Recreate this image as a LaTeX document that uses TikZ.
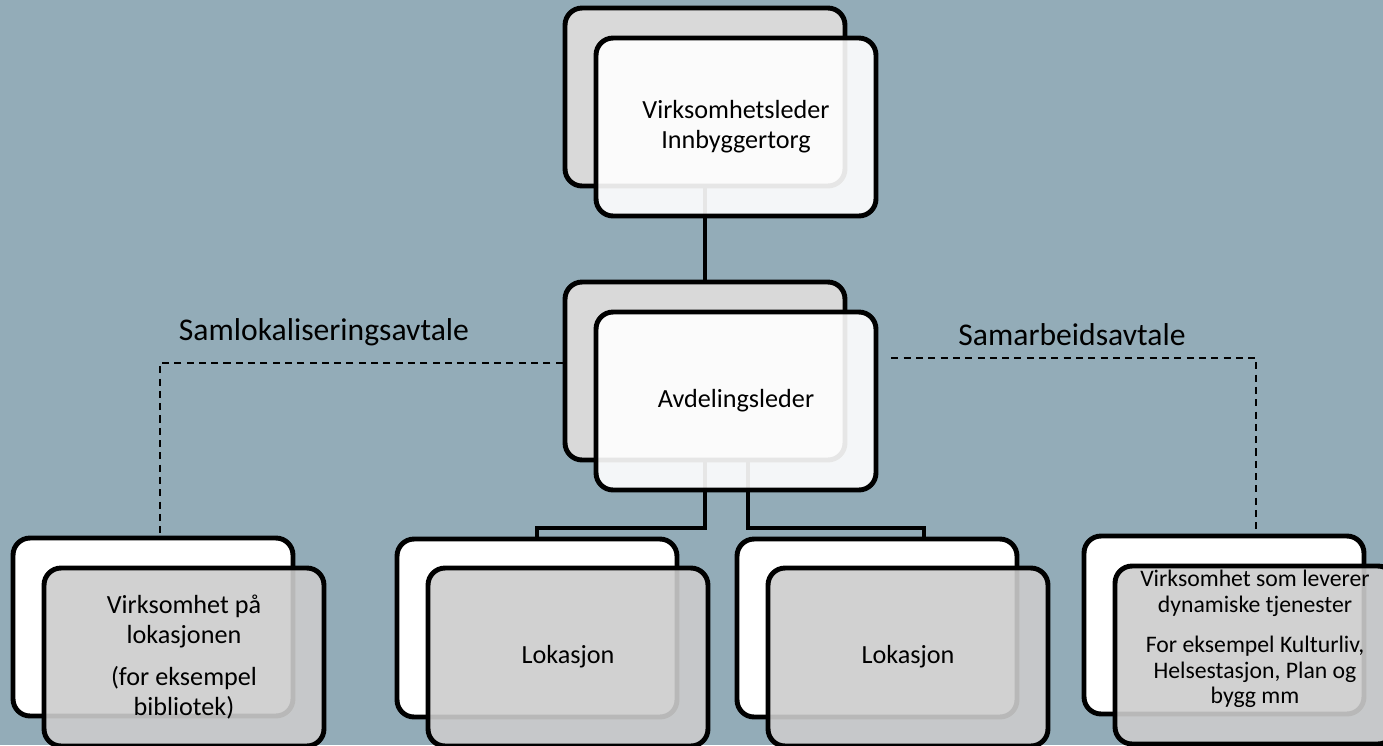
\documentclass[tikz,border=0pt]{standalone}
\usepackage{fontspec}
\setmainfont{Carlito}
\usepackage{xcolor}
\definecolor{slate}{RGB}{147,172,184}
\definecolor{paper}{RGB}{217,217,217}
\definecolor{ash}{RGB}{204,204,204}
\usetikzlibrary{positioning, calc}

\begin{document}
\begin{tikzpicture}[
    x=0.02cm, y=-0.02cm,
    font=\fontsize{14.9}{17}\selectfont,
    card/.style={draw=black, line width=2.8pt, rounded corners=0.34cm,
      minimum width=5.6cm, minimum height=3.56cm, inner sep=0pt, align=center},
    darkback/.style={card, fill=paper},
    lightback/.style={card, fill=white},
    lightfront/.style={card, fill=white, fill opacity=0.9, text opacity=1},
    darkfront/.style={card, fill=ash, fill opacity=0.9, text opacity=1},
    link/.style={line width=2.4pt},
    agreement/.style={line width=1.1pt, dash pattern=on 4pt off 3pt},
    tag/.style={font=\fontsize{18}{21}\selectfont}
  ]
  % Canvas (1383 x 745 px)
  \useasboundingbox (0,0) rectangle (1383,745);
  \clip (0,0) rectangle (1383,745);
  \fill[slate] (0,0) rectangle (1383,745);

  % Back cards
  \node[darkback] (topback) at (705,97) {};
  \node[darkback] (midback) at (705,371) {};
  \node[lightback] (leftback) at (153,627) {};
  \node[lightback] (lok1back) at (537,628) {};
  \node[lightback] (lok2back) at (877,628) {};
  \node[lightback] (rightback) at (1224,625) {};

  % Solid links
  \coordinate (bar) at (0,528);
  \coordinate (lok2drop) at (924,539);
  \draw[link] (topback.south) -- (midback.north);
  \draw[link] (midback.south) -- (midback.south |- bar) -| (lok1back.north);
  \draw[link] ($(midback.south)+(43,0)$) |- (lok2drop |- bar) -- (lok2drop);

  % Dashed agreements
  \coordinate (samlokdrop) at (160,363);
  \coordinate (samarbdrop) at (1256,358);
  \draw[agreement] (midback.west |- samlokdrop) -- (samlokdrop) -- (samlokdrop |- leftback.north);
  \node[tag] (samloktag) at (324,332) {Samlokaliseringsavtale};
  \node[tag] (samarbtag) at (1072,335) {Samarbeidsavtale};

  % Front cards
  \node[lightfront] (topfront) at ($(topback)+(31,30)$) {Virksomhetsleder\\Innbyggertorg};
  \node[lightfront] (midfront) at ($(midback)+(31,30)$) {Avdelingsleder};
  \draw[agreement] ($(midfront.east |- samarbdrop)+(13,0)$) -- (samarbdrop) -- (samarbdrop |- rightback.north);
  \node[darkfront] (leftfront) at ($(leftback)+(31,30)$)
    {Virksomhet på\\lokasjonen\\[7pt](for eksempel\\bibliotek)};
  \node[darkfront] (lok1front) at ($(lok1back)+(31,29)$) {Lokasjon};
  \node[darkfront] (lok2front) at ($(lok2back)+(31,29)$) {Lokasjon};
  \node[darkfront] (rightfront) at ($(rightback)+(31,30)$) {};
  \node[font=\fontsize{13.5}{14.7}\selectfont, align=center] (righttext)
    at ($(rightfront.center)+(0,-16)$)
    {Virksomhet som leverer\\dynamiske tjenester\\[8pt]For eksempel Kulturliv,\\Helsestasjon, Plan og\\bygg mm};

\end{tikzpicture}
\end{document}
